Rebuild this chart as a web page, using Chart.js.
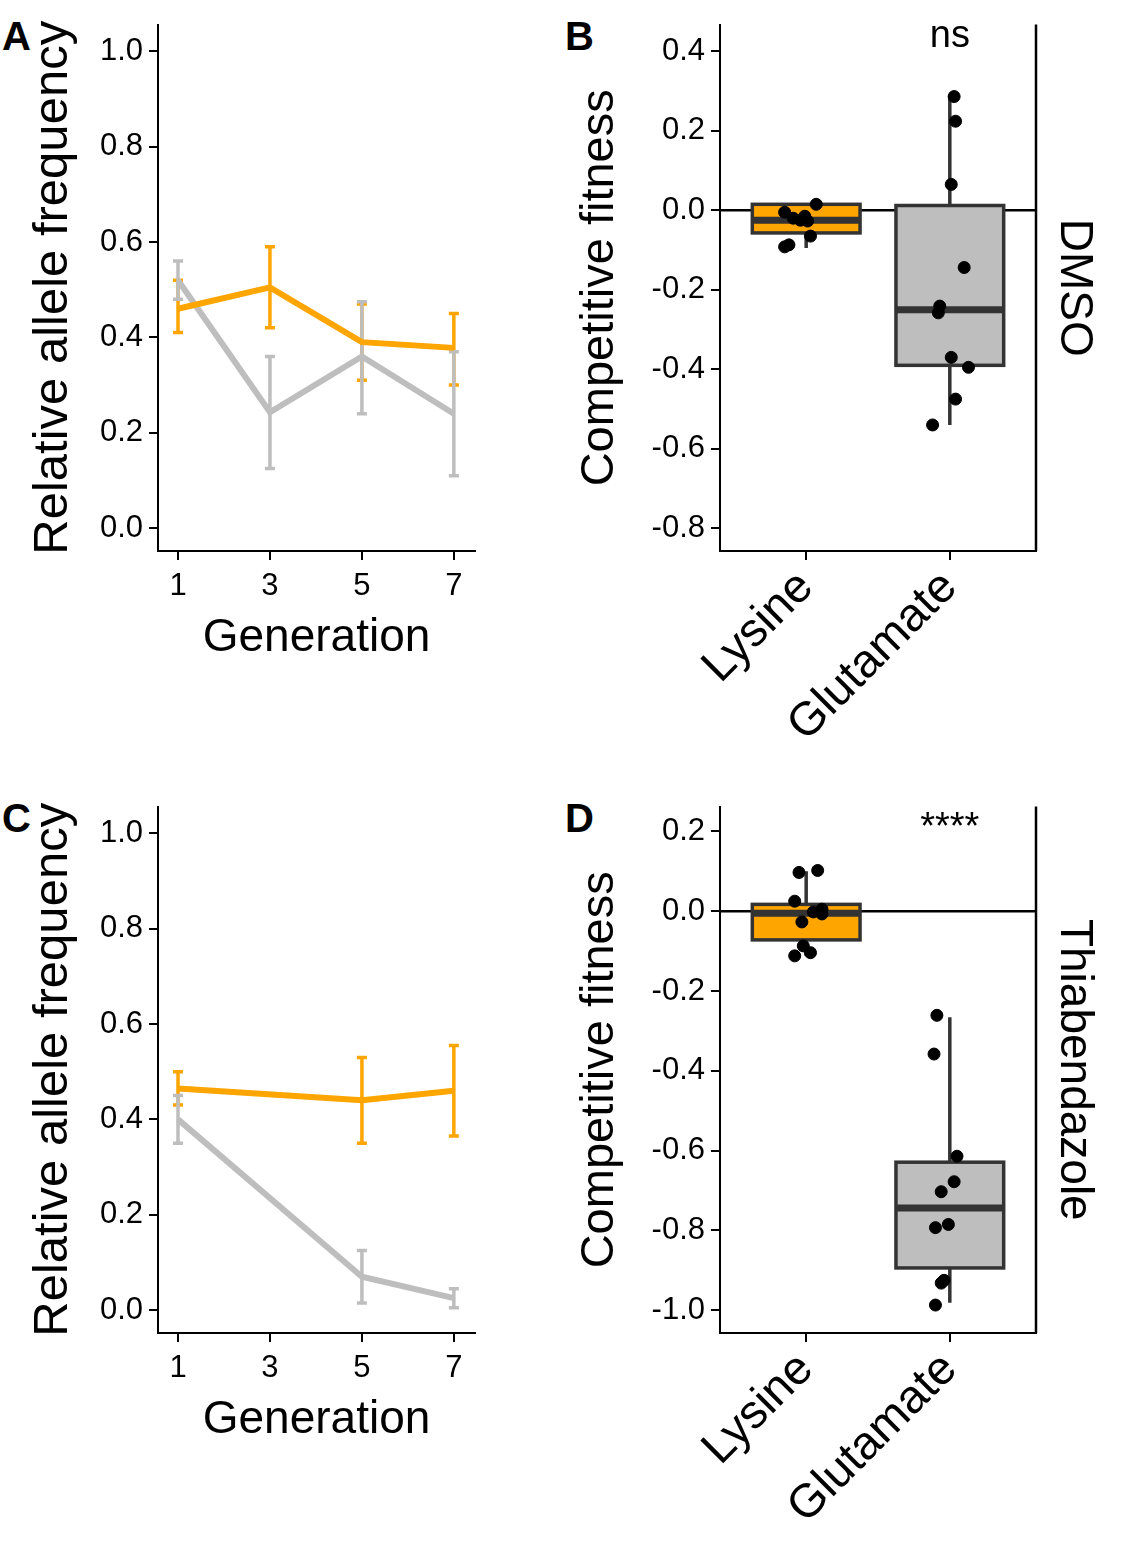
<!DOCTYPE html>
<html><head><meta charset="utf-8">
<script src="https://cdn.jsdelivr.net/npm/chart.js@4"></script>
<style>
body{margin:0;width:1125px;height:1560px;background:#fff;position:relative;font-family:"Liberation Sans",Arial,sans-serif}
canvas{position:absolute}
.lab{position:absolute;font-weight:bold;font-size:40px;font-family:"Liberation Sans",Arial,sans-serif}
</style></head><body>
<div class="lab" style="left:2px;top:14px">A</div>
<div class="lab" style="left:565px;top:14px">B</div>
<div class="lab" style="left:2px;top:796px">C</div>
<div class="lab" style="left:565px;top:796px">D</div>
<canvas id="cA" style="left:0;top:0;width:560px;height:670px" width="560" height="670"></canvas>
<canvas id="cB" style="left:560px;top:0;width:565px;height:770px" width="565" height="770"></canvas>
<canvas id="cC" style="left:0;top:782px;width:560px;height:670px" width="560" height="670"></canvas>
<canvas id="cD" style="left:560px;top:782px;width:565px;height:770px" width="565" height="770"></canvas>
<script>
// ---- Panel A data ----
const genA = [1,3,5,7];
const aLysMean = [0.46,0.505,0.39,0.378];
const aLysLo = [0.41,0.42,0.31,0.30];
const aLysHi = [0.52,0.59,0.47,0.45];
const aGluMean = [0.52,0.243,0.36,0.24];
const aGluLo = [0.48,0.125,0.24,0.11];
const aGluHi = [0.56,0.36,0.475,0.37];
// ---- Panel C data ----
const genC = [1,5,7];
const cLysMean = [0.465,0.44,0.46];
const cLysLo = [0.43,0.35,0.365];
const cLysHi = [0.50,0.53,0.555];
const cGluMean = [0.40,0.07,0.025];
const cGluLo = [0.35,0.015,0.005];
const cGluHi = [0.45,0.125,0.045];
// ---- Panel B data (boxes: [whiskerLow, q1, median, q3, whiskerHigh]) ----
const categories = ["Lysine","Glutamate"];
const bBoxLys = [-0.095,-0.057,-0.025,0.015,0.012];
const bBoxGlu = [-0.54,-0.39,-0.25,0.012,0.288];
const bPtsLysX = [0.85,0.88,0.85,0.91,0.96,1.01,1.03,1.07,0.99];
const bPtsLysY = [-0.092,-0.087,-0.005,-0.02,-0.025,-0.027,-0.065,0.015,-0.015];
const bPtsGluX = [2.03,2.04,2.01,2.10,1.93,1.92,2.01,2.13,2.04,1.88];
const bPtsGluY = [0.286,0.224,0.065,-0.144,-0.241,-0.258,-0.37,-0.395,-0.475,-0.54];
// ---- Panel D data ----
const dBoxLys = [-0.112,-0.072,-0.005,0.017,0.10];
const dBoxGlu = [-0.981,-0.894,-0.744,-0.629,-0.266];
const dPtsLysX = [0.95,1.08,0.92,1.05,1.11,0.97,1.11,0.98,1.03,0.92];
const dPtsLysY = [0.097,0.102,0.025,-0.002,-0.007,-0.027,0.005,-0.087,-0.104,-0.112];
const dPtsGluX = [1.91,1.89,2.05,2.03,1.94,1.99,1.90,1.96,1.94,1.90];
const dPtsGluY = [-0.261,-0.358,-0.614,-0.678,-0.703,-0.785,-0.793,-0.925,-0.932,-0.987];

const ORANGE = "#FFA500", GREY = "#BEBEBE";
const FONT = "Liberation Sans";

function pts(xs, ys){ return xs.map((x,i)=>({x:x,y:ys[i]})); }

function lineChart(id, gens, lm, ll, lh, gm, gl, gh){
  const err = {id:'err', beforeDatasetsDraw(ch){
    const c=ch.ctx, xs=ch.scales.x, ys=ch.scales.y;
    [[ll,lh,ORANGE],[gl,gh,GREY]].forEach(([lo,hi,col])=>{
      c.save(); c.strokeStyle=col; c.lineWidth=3.5;
      gens.forEach((g,i)=>{
        const x=xs.getPixelForValue(g), y1=ys.getPixelForValue(lo[i]), y2=ys.getPixelForValue(hi[i]);
        c.beginPath(); c.moveTo(x,y1); c.lineTo(x,y2);
        c.moveTo(x-5,y1); c.lineTo(x+5,y1); c.moveTo(x-5,y2); c.lineTo(x+5,y2); c.stroke();
      }); c.restore();
    });
  }};
  new Chart(document.getElementById(id), {
    type:'scatter',
    data:{datasets:[
      {data:pts(gens,lm), showLine:true, borderColor:ORANGE, borderWidth:6, pointRadius:0, tension:0},
      {data:pts(gens,gm), showLine:true, borderColor:GREY, borderWidth:6, pointRadius:0, tension:0}
    ]},
    options:{responsive:false, animation:false, devicePixelRatio:1,
      layout:{padding:{top:15,right:85,left:0,bottom:0}},
      plugins:{legend:{display:false},tooltip:{enabled:false}},
      scales:{
        x:{type:'linear',min:0.565,max:7.46,
          afterBuildTicks:s=>{s.ticks=[1,3,5,7].map(v=>({value:v}));},
          afterFit:s=>{s.height=119;},
          grid:{drawOnChartArea:false,color:'#000',tickLength:9,lineWidth:2},
          border:{color:'#000',width:2},
          ticks:{color:'#000',font:{family:FONT,size:31},padding:8,maxRotation:0},
          title:{display:true,text:'Generation',color:'#000',font:{family:FONT,size:46},padding:{top:0,bottom:4}}},
        y:{min:-0.048,max:1.056,
          afterBuildTicks:s=>{s.ticks=[0,0.2,0.4,0.6,0.8,1.0].map(v=>({value:v}));},
          afterFit:s=>{s.width=158;},
          grid:{drawOnChartArea:false,color:'#000',tickLength:9,lineWidth:2},
          border:{color:'#000',width:2},
          ticks:{color:'#000',font:{family:FONT,size:31},padding:6,callback:v=>v.toFixed(1)},
          title:{display:true,text:'Relative allele frequency',color:'#000',font:{family:FONT,size:49},padding:{top:24,bottom:0}}}
      }},
    plugins:[err]
  });
}

function boxChart(id, ymin, ymax, yticks, boxL, boxG, lx, ly, gx, gy, sig, strip){
  const deco = {id:'deco',
    beforeDatasetsDraw(ch){
      const c=ch.ctx, xs=ch.scales.x, ys=ch.scales.y, a=ch.chartArea;
      c.save();
      c.strokeStyle='#000'; c.lineWidth=2.5;
      c.beginPath(); c.moveTo(a.left,ys.getPixelForValue(0)); c.lineTo(a.right,ys.getPixelForValue(0)); c.stroke();
      [[1,boxL,ORANGE],[2,boxG,GREY]].forEach(([cx,b,col])=>{
        const x=xs.getPixelForValue(cx), hw=(xs.getPixelForValue(cx+0.375)-x);
        const p=b.map(v=>ys.getPixelForValue(v));
        c.strokeStyle='#333'; c.lineWidth=3.5;
        c.beginPath(); c.moveTo(x,p[0]); c.lineTo(x,p[1]); c.moveTo(x,p[3]); c.lineTo(x,p[4]); c.stroke();
        c.fillStyle=col; c.fillRect(x-hw,p[3],2*hw,p[1]-p[3]);
        c.strokeRect(x-hw,p[3],2*hw,p[1]-p[3]);
        c.lineWidth=7; c.beginPath(); c.moveTo(x-hw,p[2]); c.lineTo(x+hw,p[2]); c.stroke();
      });
      c.restore();
    },
    afterDraw(ch){
      const c=ch.ctx, xs=ch.scales.x, a=ch.chartArea;
      c.save();
      c.strokeStyle='#000'; c.lineWidth=2.5;
      c.beginPath(); c.moveTo(a.right,a.top); c.lineTo(a.right,a.bottom); c.stroke();
      c.fillStyle='#000'; c.textAlign='center'; c.textBaseline='middle';
      c.font='38px '+FONT; c.fillText(sig, xs.getPixelForValue(2), a.top+(sig==='ns'?12:22));
      c.translate(a.right+38,(a.top+a.bottom)/2); c.rotate(Math.PI/2);
      c.font='46px '+FONT; c.fillText(strip,0,0);
      c.restore();
    }};
  new Chart(document.getElementById(id), {
    type:'scatter',
    data:{datasets:[
      {data:pts(lx,ly), backgroundColor:'#000', borderColor:'#000', pointRadius:6},
      {data:pts(gx,gy), backgroundColor:'#000', borderColor:'#000', pointRadius:6}
    ]},
    options:{responsive:false, animation:false, devicePixelRatio:1,
      layout:{padding:{top:15,right:89,left:0,bottom:0}},
      plugins:{legend:{display:false},tooltip:{enabled:false}},
      scales:{
        x:{type:'linear',min:0.4,max:2.6,
          afterBuildTicks:s=>{s.ticks=[1,2].map(v=>({value:v}));},
          afterFit:s=>{s.height=219;},
          grid:{drawOnChartArea:false,color:'#000',tickLength:9,lineWidth:2},
          border:{color:'#000',width:2},
          ticks:{color:'#000',font:{family:FONT,size:47},padding:0,minRotation:45,maxRotation:45,callback:v=>categories[v-1]}},
        y:{min:ymin,max:ymax,
          afterBuildTicks:s=>{s.ticks=yticks.map(v=>({value:v}));},
          afterFit:s=>{s.width=160;},
          grid:{drawOnChartArea:false,color:'#000',tickLength:9,lineWidth:2},
          border:{color:'#000',width:2},
          ticks:{color:'#000',font:{family:FONT,size:31},padding:6,callback:v=>v.toFixed(1)},
          title:{display:true,text:'Competitive fitness',color:'#000',font:{family:FONT,size:47},padding:{top:12,bottom:0}}}
      }},
    plugins:[deco]
  });
}

lineChart('cA', genA, aLysMean, aLysLo, aLysHi, aGluMean, aGluLo, aGluHi);
lineChart('cC', genC, cLysMean, cLysLo, cLysHi, cGluMean, cGluLo, cGluHi);
boxChart('cB', -0.857, 0.467, [-0.8,-0.6,-0.4,-0.2,0,0.2,0.4], bBoxLys, bBoxGlu, bPtsLysX, bPtsLysY, bPtsGluX, bPtsGluY, 'ns', 'DMSO');
boxChart('cD', -1.057, 0.262, [-1.0,-0.8,-0.6,-0.4,-0.2,0,0.2], dBoxLys, dBoxGlu, dPtsLysX, dPtsLysY, dPtsGluX, dPtsGluY, '****', 'Thiabendazole');
</script>
</body></html>
